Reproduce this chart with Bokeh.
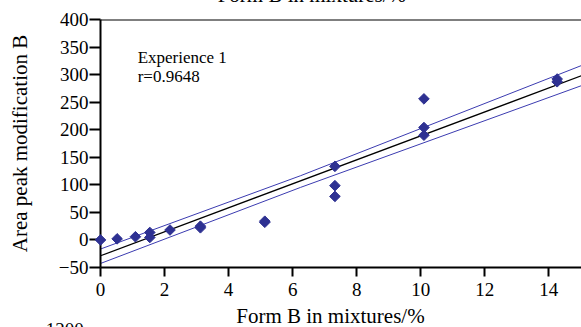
from bokeh.plotting import figure
from bokeh.models import Span, Label, FixedTicker, Range1d
from bokeh.core.properties import value
from bokeh.embed import file_html
from bokeh.resources import INLINE
import math

# Data
form_b = [0.0, 0.52, 1.09, 1.54, 1.54, 2.17, 3.12, 3.12, 5.13, 5.13, 7.32, 7.32, 7.32, 10.1, 10.1, 10.1, 14.26, 14.26]
area_b = [0.0, 2.0, 5.8, 13.6, 4.5, 18.0, 22.0, 25.0, 32.0, 34.0, 133.5, 98.5, 79.0, 256.0, 204.0, 190.0, 292.0, 287.0]

fit_x = [0.0, 15.02]
fit_y = [-28.7, 298.0]

band_x = [0.0, 6.25, 15.02]
band_upper = [-16.5, 116.6, 316.5]
band_lower = [-42.7, 95.4, 280.0]

x_ticks = [0, 2, 4, 6, 8, 10, 12, 14]
y_ticks = [-50, 0, 50, 100, 150, 200, 250, 300, 350, 400]

annotation_lines = ["Experience 1", "r=0.9648"]
x_label = "Form B in mixtures/%"
y_label = "Area peak modification B"

FONT = "Liberation Serif"
BLUE = "#2e3192"
LINE_BLUE = "#3b3bb0"

p = figure(width=581, height=327, output_backend="svg", toolbar_location=None,
           x_range=Range1d(0, 15.02), y_range=Range1d(-50, 400),
           min_border_left=100, min_border_right=0, min_border_top=19, min_border_bottom=60)
p.outline_line_color = None
p.xgrid.grid_line_color = None
p.ygrid.grid_line_color = None
p.background_fill_color = "white"
p.border_fill_color = "white"

# regression and band lines
p.line(band_x, band_upper, line_color=LINE_BLUE, line_width=1)
p.line(band_x, band_lower, line_color=LINE_BLUE, line_width=1)
p.line(fit_x, fit_y, line_color="black", line_width=1.3)

p.scatter(form_b, area_b, marker="square", angle=math.pi / 4, size=7.5,
          fill_color=BLUE, line_color=BLUE, level="overlay")

# top frame line
p.add_layout(Span(location=400, dimension="width", line_color="black", line_width=2))

xa = p.xaxis[0]
ya = p.yaxis[0]
for ax in (xa, ya):
    ax.axis_line_width = 2
    ax.axis_line_color = "black"
    ax.major_tick_line_width = 2
    ax.major_tick_line_color = "black"
    ax.minor_tick_line_color = None
    ax.major_tick_in = 0
    ax.major_label_text_font = FONT
    ax.major_label_text_font_size = "19px"
    ax.major_label_text_color = "black"
    ax.axis_label_text_font = FONT
    ax.axis_label_text_font_size = "21px"
    ax.axis_label_text_font_style = "normal"
    ax.axis_label_text_color = "black"

xa.ticker = FixedTicker(ticks=x_ticks)
ya.ticker = FixedTicker(ticks=y_ticks)
ya.major_label_overrides = {-50: "\u221250"}
xa.major_tick_out = 9
ya.major_tick_out = 11
xa.major_label_standoff = 6
ya.major_label_standoff = 1
ya.axis_label = y_label
ya.axis_label_standoff = 24

# texts outside the frame, drawn as overlay-level text glyphs (not clipped to the frame)
p.text(x=[7.18], y=[-138.5], text=[x_label], text_font=value(FONT), text_font_size="21px",
       text_color="black", text_align="center", text_baseline="alphabetic", level="overlay")
# cropped texts from neighbouring panels (title of the panel above, tick of the panel below)
p.text(x=[6.6], y=[444.6], text=[x_label], text_font=value(FONT), text_font_size="21px",
       text_color="black", text_align="center", text_baseline="alphabetic", level="overlay")
p.text(x=[-0.52], y=[-163.2], text=["1200"], text_font=value(FONT), text_font_size="19px",
       text_color="black", text_align="right", text_baseline="alphabetic", level="overlay")

p.add_layout(Label(x=1.16, y=330.5, text=annotation_lines[0], text_font=FONT,
                   text_font_size="17px", text_color="black", text_baseline="alphabetic"))
p.add_layout(Label(x=1.16, y=296.5, text=annotation_lines[1], text_font=FONT,
                   text_font_size="17px", text_color="black", text_baseline="alphabetic"))

open("out.html", "w").write(file_html(p, INLINE))
